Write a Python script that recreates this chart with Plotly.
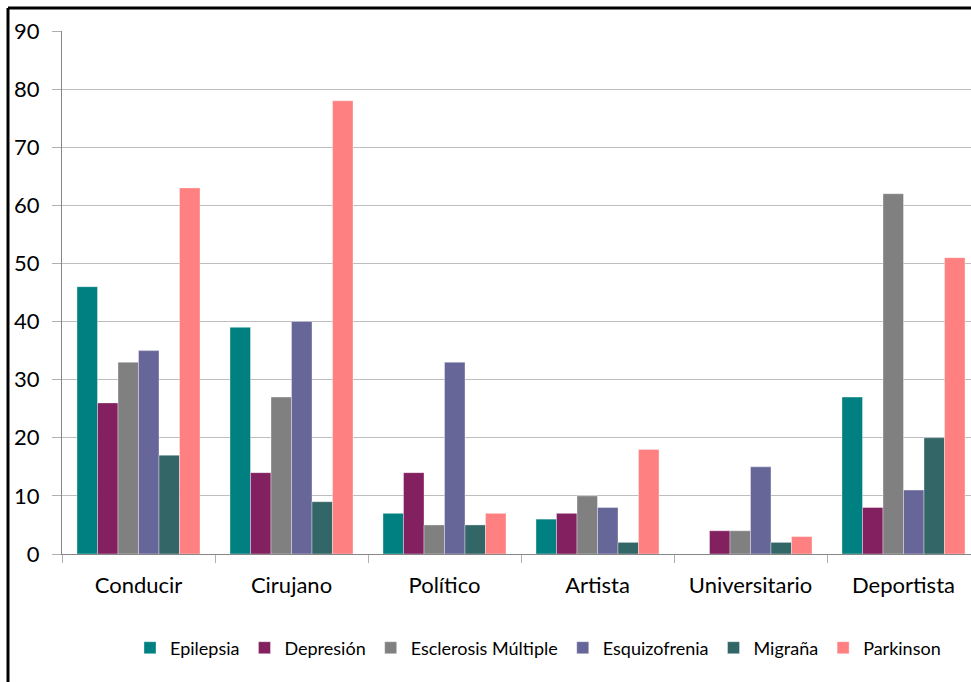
import plotly.graph_objects as go

categories = ["Conducir", "Cirujano", "Político", "Artista", "Universitario", "Deportista"]
series_names = ["Epilepsia", "Depresión", "Esclerosis Múltiple", "Esquizofrenia", "Migraña", "Parkinson"]
epilepsia = [46, 39, 7, 6, 0, 27]
depresion = [26, 14, 14, 7, 4, 8]
esclerosis = [33, 27, 5, 10, 4, 62]
esquizofrenia = [35, 40, 33, 8, 15, 11]
migrana = [17, 9, 5, 2, 2, 20]
parkinson = [63, 78, 7, 18, 3, 51]
y_ticks = [0, 10, 20, 30, 40, 50, 60, 70, 80, 90]

series_values = [epilepsia, depresion, esclerosis, esquizofrenia, migrana, parkinson]
colors = ["#008080", "#83205F", "#808080", "#666699", "#336666", "#FF8080"]

FONT = "Lato, Carlito, Calibri, sans-serif"

fig = go.Figure()
for name, vals, col in zip(series_names, series_values, colors):
    fig.add_trace(go.Bar(
        name=name, x=categories, y=vals,
        marker=dict(color=col, line=dict(color="rgba(255,255,255,0.45)", width=0.8)),
    ))

W, H = 971, 682
L, R, T, B = 62, 0, 31, 128
pw = W - L - R
ph = H - T - B

fig.update_layout(
    width=W, height=H,
    margin=dict(l=L, r=R, t=T, b=B, pad=0, autoexpand=False),
    barmode="group", bargap=0.196, bargroupgap=0,
    plot_bgcolor="white", paper_bgcolor="white",
    font=dict(family=FONT, size=22, color="black"),
    showlegend=True,
    legend=dict(
        orientation="h", x=(538 - L) / pw, xanchor="center",
        y=-(648 - 554) / ph, yanchor="middle",
        font=dict(family=FONT, size=18, color="black"),
        itemwidth=30, traceorder="normal",
    ),
    xaxis=dict(
        type="category", range=[-0.5, 5.5 - 9 / 153],
        showline=True, linecolor="#868686", linewidth=1,
        ticks="outside", tickson="boundaries", ticklen=8, tickcolor="#b0b0b0",
        showgrid=False, tickfont=dict(family=FONT, size=22, color="black"),
        ticklabelstandoff=12,
    ),
    yaxis=dict(
        range=[0, 90], tickvals=y_ticks, ticktext=[str(v) for v in y_ticks],
        showline=True, linecolor="#868686", linewidth=1,
        ticks="outside", ticklen=9, tickcolor="#b0b0b0",
        showgrid=True, gridcolor="#bdbdbd", gridwidth=1, zeroline=False,
        tickfont=dict(family=FONT, size=22, color="black"),
        ticklabelstandoff=8,
    ),
)

# outer frame (top and left edges visible)
fx = (8 - L) / pw
fy = (H - B - 8) / ph
fig.add_shape(type="line", xref="paper", yref="paper",
              x0=fx, x1=(W + 5 - L) / pw, y0=fy, y1=fy,
              line=dict(color="black", width=3))
fig.add_shape(type="line", xref="paper", yref="paper",
              x0=fx, x1=fx, y0=fy, y1=-(B + 10) / ph,
              line=dict(color="black", width=3))

fig.write_html("out.html")
